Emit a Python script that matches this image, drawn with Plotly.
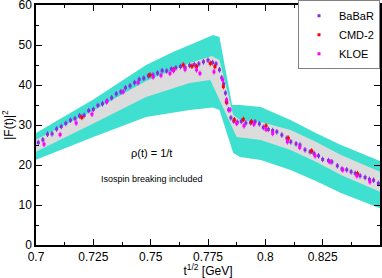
import plotly.graph_objects as go

# ---- band edges ----
ou_x = [0.700, 0.725, 0.748, 0.760, 0.767, 0.7772, 0.780, 0.7855, 0.789, 0.798, 0.811, 0.822, 0.833, 0.850]
ou_y = [28.0, 36.4, 45.0, 48.3, 50.0, 52.5, 52.0, 35.0, 35.0, 34.5, 31.25, 28.0, 25.0, 21.0]
ol_x = [0.700, 0.725, 0.748, 0.767, 0.777, 0.780, 0.786, 0.789, 0.798, 0.811, 0.822, 0.833, 0.850]
ol_y = [21.3, 27.0, 32.0, 33.75, 34.4, 33.75, 23.0, 22.0, 21.25, 18.75, 16.0, 13.0, 9.2]
gu_x = [0.700, 0.725, 0.748, 0.767, 0.7766, 0.780, 0.786, 0.789, 0.798, 0.811, 0.822, 0.833, 0.850]
gu_y = [26.3, 33.6, 41.0, 45.5, 47.25, 46.25, 32.5, 31.25, 30.75, 28.75, 25.8, 22.5, 18.3]
gl_x = [0.700, 0.725, 0.748, 0.767, 0.776, 0.7875, 0.798, 0.811, 0.822, 0.833, 0.850]
gl_y = [23.3, 30.4, 37.0, 40.5, 41.25, 27.0, 26.25, 23.75, 20.8, 17.5, 13.3]

# ---- data points ----
babar_x = [0.7010, 0.7030, 0.7050, 0.7070, 0.7090, 0.7110, 0.7130, 0.7150, 0.7170, 0.7190,
           0.7210, 0.7230, 0.7250, 0.7270, 0.7290, 0.7310, 0.7330, 0.7350, 0.7370, 0.7390,
           0.7410, 0.7430, 0.7450, 0.7470, 0.7490, 0.7510, 0.7530, 0.7550, 0.7570, 0.7590,
           0.7610, 0.7630, 0.7650, 0.7670, 0.7690, 0.7710, 0.7730, 0.7750, 0.7770, 0.7785,
           0.7800, 0.7810, 0.7818, 0.7826, 0.7832, 0.7840, 0.7850, 0.7862, 0.7878, 0.7895,
           0.7915, 0.7935, 0.7955, 0.7974, 0.7991, 0.8013, 0.8032, 0.8050, 0.8072, 0.8094,
           0.8111, 0.8134, 0.8151, 0.8173, 0.8195, 0.8212, 0.8232, 0.8250, 0.8275, 0.8290,
           0.8314, 0.8334, 0.8355, 0.8374, 0.8392, 0.8413, 0.8435, 0.8454, 0.8472, 0.8493]
babar_y = [25.6, 26.3, 27.7, 27.8, 29.0, 29.6, 30.4, 31.2, 31.6, 32.3,
           32.4, 33.6, 33.9, 34.9, 35.3, 36.0, 36.8, 37.8, 38.3, 39.3,
           39.8, 40.6, 41.4, 41.7, 42.3, 42.5, 43.0, 43.6, 43.5, 44.0,
           44.3, 44.6, 44.4, 44.9, 45.1, 45.3, 45.8, 46.2, 45.6, 45.3,
           43.8, 41.8, 40.3, 38.0, 35.6, 33.8, 31.8, 31.0, 30.7, 30.9,
           30.5, 30.6, 30.8, 30.3, 29.4, 28.9, 28.6, 28.3, 27.5, 26.7,
           25.8, 25.3, 25.0, 23.8, 23.3, 22.9, 22.3, 21.4, 21.1, 20.8,
           19.8, 19.0, 18.8, 18.3, 17.9, 17.3, 16.9, 16.4, 16.2, 15.4]

cmd2_x = [0.7200, 0.7497, 0.7600, 0.7642, 0.7680, 0.7700, 0.7760, 0.7780, 0.7817, 0.7830,
          0.7865, 0.7904, 0.7940, 0.8003, 0.8100, 0.8202, 0.8402]
cmd2_y = [31.9, 42.5, 43.8, 45.0, 44.7, 44.6, 45.4, 44.6, 39.6, 35.8,
          31.3, 31.4, 30.8, 29.8, 26.7, 23.5, 17.8]

kloe_x = [0.7035, 0.7105, 0.7175, 0.7244, 0.7308, 0.7380, 0.7445, 0.7511, 0.7545, 0.7584,
          0.7600, 0.7650, 0.7700, 0.7715, 0.7776, 0.7814, 0.7831, 0.7846, 0.7875, 0.7907,
          0.7950, 0.8003, 0.8032, 0.8096, 0.8150, 0.8217, 0.8282, 0.8338, 0.8399, 0.8456]
kloe_y = [25.2, 27.6, 30.5, 32.7, 35.8, 38.3, 40.6, 42.0, 42.4, 42.9,
          43.6, 43.9, 43.8, 42.9, 43.3, 41.3, 36.3, 33.8, 30.4, 29.8,
          30.2, 28.9, 27.9, 25.8, 24.4, 22.3, 20.8, 18.8, 17.3, 15.8]

x_ticks = [0.7, 0.725, 0.75, 0.775, 0.8, 0.825]
x_labels = ["0.7", "0.725", "0.75", "0.775", "0.8", "0.825"]
y_ticks = [0, 10, 20, 30, 40, 50, 60]

FONT = "Liberation Sans, Arial, sans-serif"

fig = go.Figure()

fig.add_trace(go.Scatter(x=ou_x + ol_x[::-1], y=ou_y + ol_y[::-1], fill="toself",
                         fillcolor="#40E0D0", line=dict(width=0), mode="lines",
                         showlegend=False, hoverinfo="skip"))
fig.add_trace(go.Scatter(x=gu_x + gl_x[::-1], y=gu_y + gl_y[::-1], fill="toself",
                         fillcolor="#DCDCDC", line=dict(width=0), mode="lines",
                         showlegend=False, hoverinfo="skip"))

def pts(xs, ys, name, color):
    return go.Scatter(x=xs, y=ys, mode="markers", name=name,
                      marker=dict(symbol="square", size=3, color=color, line=dict(width=0)),
                      error_y=dict(type="constant", value=0.7, color=color, thickness=1, width=0))

fig.add_trace(pts(babar_x, babar_y, "BaBaR", "#8a2be2"))
fig.add_trace(pts(cmd2_x, cmd2_y, "CMD-2", "#ff0000"))
fig.add_trace(pts(kloe_x, kloe_y, "KLOE", "#ff00ff"))

fig.add_annotation(x=0.7505, y=22.9, text="ρ(t) = 1/t", showarrow=False,
                   font=dict(size=11, color="black", family=FONT))
fig.add_annotation(x=0.7505, y=16.5, text="Isospin breaking included", showarrow=False,
                   font=dict(size=9, color="black", family=FONT))

axis_common = dict(showline=True, linecolor="black", linewidth=1.5, mirror="ticks",
                   ticks="inside", ticklen=6, tickcolor="black", tickwidth=1.2,
                   showgrid=False, zeroline=False, ticklabeloverflow="allow",
                   automargin=False,
                   tickfont=dict(size=12, color="black", family=FONT))

fig.update_xaxes(range=[0.7, 0.85], tickvals=x_ticks, ticktext=x_labels,
                 minor=dict(dtick=0.0125, tick0=0.7, ticks="inside", ticklen=3,
                            tickcolor="black", showgrid=False),
                 title=dict(text="t<sup>1/2</sup> [GeV]", font=dict(size=12, color="black", family=FONT)),
                 **axis_common)
fig.update_yaxes(range=[0, 60], tickvals=y_ticks,
                 minor=dict(dtick=5, tick0=0, ticks="inside", ticklen=3,
                            tickcolor="black", showgrid=False),
                 title=dict(text="|F(t)|<sup>2</sup>", font=dict(size=12, color="black", family=FONT)),
                 **axis_common)

fig.update_layout(width=382, height=278, autosize=False,
                  margin=dict(l=36, r=2, t=5, b=33, autoexpand=False),
                  plot_bgcolor="white", paper_bgcolor="white",
                  legend=dict(x=1, y=1.02, xanchor="right", yanchor="top",
                              bgcolor="white", bordercolor="#808080", borderwidth=1,
                              font=dict(size=11, color="black", family=FONT),
                              itemwidth=30, tracegroupgap=0),
                  font=dict(family=FONT))

fig.write_html("out.html", config={"displayModeBar": False, "responsive": False},
               post_script="document.body.style.margin='0';document.body.style.padding='0';")
